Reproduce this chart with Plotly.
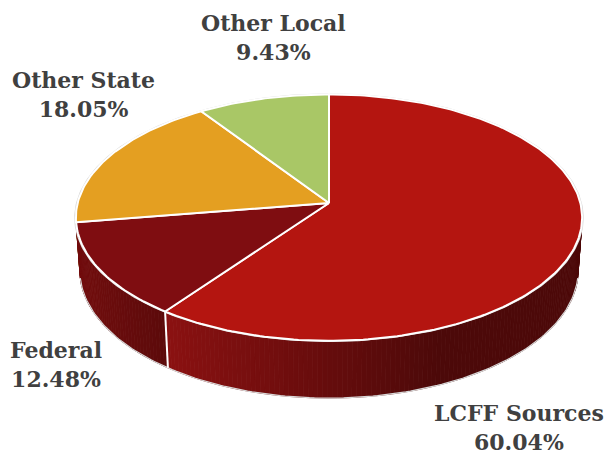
import math
import plotly.graph_objects as go

# ---- data ----
categories = ["LCFF Sources", "Federal", "Other State", "Other Local"]
values = [60.04, 12.48, 18.05, 9.43]
top_colors = ["#B41510", "#7F0D11", "#E49F21", "#A9C766"]
side_left = ["#8B1111", "#720D0E", "#B07818", "#80A050"]
side_right = ["#4C0909", "#5C0A0A", "#8A5E10", "#60803A"]
side_x_range = [(166, 440), (78, 166), (0, 1), (0, 1)]

# ---- projection (simple perspective of a tilted disk) ----
W, H = 608, 455
CX, CY = 329, 203
ALPHA = math.radians(28.9)
S, C = math.sin(ALPHA), math.cos(ALPHA)
D = 7.4
F = 1860.0
THICK = 0.2437


def proj(theta_deg, r=1.0, h=0.0):
    t = math.radians(theta_deg)
    u, v = r * math.sin(t), r * math.cos(t)
    depth = D + v * C - h * S
    xs = F * u / depth
    ys = F * (h * C + v * S) / depth
    return CX + xs, CY - ys


def hex2rgb(hx):
    hx = hx.lstrip("#")
    return [int(hx[i:i + 2], 16) for i in (0, 2, 4)]


def lerp_color(c1, c2, t):
    a, b = hex2rgb(c1), hex2rgb(c2)
    t = max(0.0, min(1.0, t))
    return "rgb(%d,%d,%d)" % tuple(round(a[i] + (b[i] - a[i]) * t) for i in range(3))


total = sum(values)
bounds = []
acc = 0.0
for v in values:
    a0 = acc / total * 360.0
    acc += v
    a1 = acc / total * 360.0
    bounds.append((a0, a1))

fig = go.Figure()

# ---- sides (front portion only), drawn back to front ----
segs = []
for i, (a0, a1) in enumerate(bounds):
    n = max(1, int(math.ceil((a1 - a0) / 1.0)))
    for k in range(n):
        t0 = a0 + (a1 - a0) * k / n
        t1 = a0 + (a1 - a0) * (k + 1) / n
        mid = (t0 + t1) / 2
        if math.cos(math.radians(mid)) > 0.25:
            continue
        segs.append((math.cos(math.radians(mid)), i, t0, t1))
segs.sort(key=lambda s: -s[0])
for _, i, t0, t1 in segs:
    p = [proj(t0), proj(t1), proj(t1, h=-THICK), proj(t0, h=-THICK)]
    xm = sum(q[0] for q in p) / 4
    lo, hi = side_x_range[i]
    col = lerp_color(side_left[i], side_right[i], (xm - lo) / (hi - lo))
    fig.add_trace(go.Scatter(
        x=[q[0] for q in p] + [p[0][0]], y=[q[1] for q in p] + [p[0][1]],
        mode="lines", fill="toself", fillcolor=col,
        line=dict(color=col, width=0.8), hoverinfo="skip", showlegend=False))

# faint outline of the bottom silhouette
bx, by = [], []
for k in range(-100, -181, -1):
    x, y = proj(k, h=-THICK)
    bx.append(x); by.append(y)
for k in range(180, 99, -1):
    x, y = proj(k, h=-THICK)
    bx.append(x); by.append(y)
fig.add_trace(go.Scatter(x=bx, y=by, mode="lines", line=dict(color="#D8D8D8", width=1.2),
                         hoverinfo="skip", showlegend=False))

# white seam on side at LCFF / Federal boundary
sx0, sy0 = proj(bounds[0][1])
sx1, sy1 = proj(bounds[0][1], h=-THICK)
fig.add_trace(go.Scatter(x=[sx0, sx1], y=[sy0, sy1], mode="lines",
                         line=dict(color="white", width=2), hoverinfo="skip", showlegend=False))

# faint outer outline of top ellipse
ox, oy = [], []
for k in range(0, 361):
    x, y = proj(k, r=1.004)
    ox.append(x); oy.append(y)
fig.add_trace(go.Scatter(x=ox, y=oy, mode="lines", line=dict(color="#D8D8D8", width=1.2),
                         hoverinfo="skip", showlegend=False))

# ---- top faces ----
for i, (a0, a1) in enumerate(bounds):
    n = max(2, int((a1 - a0) / 1.0))
    xs, ys = [CX], [CY]
    for k in range(n + 1):
        x, y = proj(a0 + (a1 - a0) * k / n)
        xs.append(x); ys.append(y)
    xs.append(CX); ys.append(CY)
    fig.add_trace(go.Scatter(
        x=xs, y=ys, mode="lines", fill="toself", fillcolor=top_colors[i],
        line=dict(color="white", width=2), name=categories[i],
        hoverinfo="text", text=f"{categories[i]}: {values[i]:.2f}%", showlegend=False))

# ---- labels ----
label_pos = {"LCFF Sources": (519, 427), "Federal": (56, 364),
             "Other State": (83, 94), "Other Local": (273, 37)}
for cat, val in zip(categories, values):
    lx, ly = label_pos[cat]
    fig.add_annotation(x=lx, y=ly, xref="x", yref="y", showarrow=False,
                       text=f"<b>{cat}<br>{val:.2f}%</b>", align="center",
                       xanchor="center", yanchor="middle",
                       font=dict(family="DejaVu Serif", size=22, color="#404040"))

fig.update_layout(
    width=W, height=H, margin=dict(l=0, r=0, t=0, b=0),
    paper_bgcolor="white", plot_bgcolor="white",
    xaxis=dict(range=[0, W], visible=False, fixedrange=True),
    yaxis=dict(range=[H, 0], visible=False, fixedrange=True),
)
fig.write_html("out.html", config={"displayModeBar": False},
               post_script="document.body.style.margin='0';document.body.style.overflow='hidden';")
